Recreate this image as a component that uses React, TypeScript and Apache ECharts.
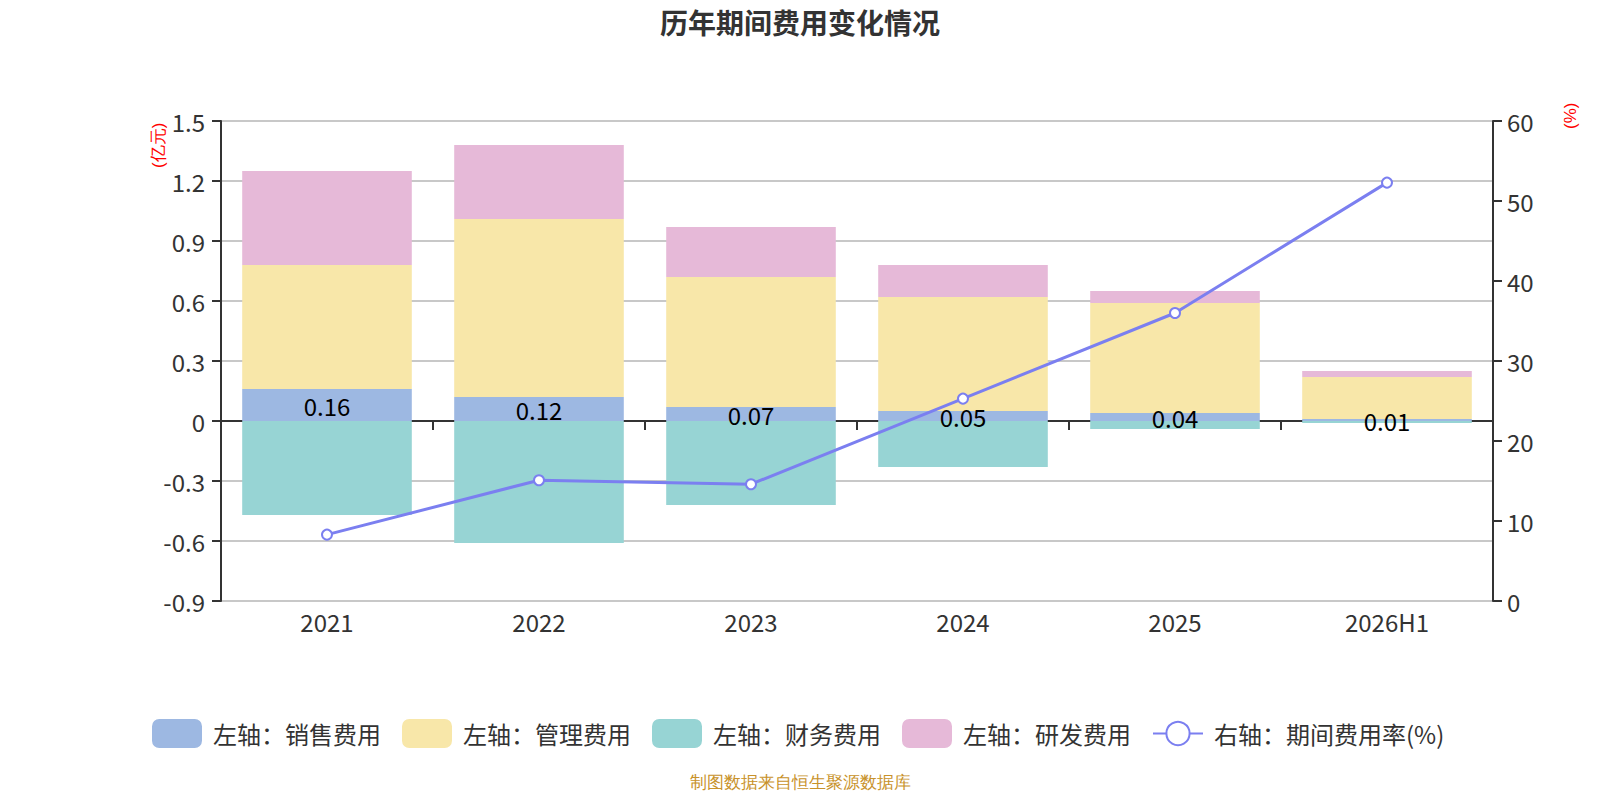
import { useRef, useEffect } from "react";
import * as echarts from "echarts";

const YEARS = ["2021", "2022", "2023", "2024", "2025", "2026H1"];
const SALES = [0.16, 0.12, 0.07, 0.05, 0.04, 0.01];
const ADMIN = [0.62, 0.89, 0.65, 0.57, 0.55, 0.21];
const FINANCE = [-0.47, -0.61, -0.42, -0.23, -0.04, -0.01];
const RND = [0.47, 0.37, 0.25, 0.16, 0.06, 0.03];
const RATE = [8.3, 15.1, 14.6, 25.3, 36.0, 52.3];

const TEXT = "#333";
const AXIS_LINE = "#333";

export default function App() {
  const ref = useRef<HTMLDivElement>(null);

  useEffect(() => {
    if (!ref.current) return;
    const chart = echarts.init(ref.current, null, { renderer: "svg" });
    const barBase = { type: "bar", stack: "cost", barWidth: "80%", yAxisIndex: 0 };

    chart.setOption({
      animation: false,
      textStyle: { fontFamily: "'Noto Sans CJK SC', 'Noto Sans', sans-serif" },
      title: {
        text: "历年期间费用变化情况",
        left: "center",
        top: 0,
        padding: [0, 5],
        textStyle: { fontSize: 28, fontWeight: "bold", color: TEXT },
      },
      grid: { left: 213, right: 99, top: 113, bottom: 191, outerBoundsMode: "none" },
      legend: {
        top: 706,
        left: 139,
        itemWidth: 50,
        itemHeight: 29,
        itemGap: 21,
        textStyle: { fontSize: 24, color: TEXT, padding: [0, 0, 0, 6] },
        data: [
          { name: "左轴：销售费用", icon: "roundRect" },
          { name: "左轴：管理费用", icon: "roundRect" },
          { name: "左轴：财务费用", icon: "roundRect" },
          { name: "左轴：研发费用", icon: "roundRect" },
          { name: "右轴：期间费用率(%)" },
        ],
      },
      graphic: [
        {
          type: "text",
          x: 142,
          y: 160,
          rotation: Math.PI / 2,
          style: { text: "(亿元)", fill: "#ff0000", fontSize: 17, align: "left", verticalAlign: "top" },
        },
        {
          type: "text",
          x: 1554,
          y: 121,
          rotation: Math.PI / 2,
          style: { text: "(%)", fill: "#ff0000", fontSize: 17, align: "left", verticalAlign: "top" },
        },
        {
          type: "text",
          x: 792,
          y: 774,
          style: {
            text: "制图数据来自恒生聚源数据库",
            fill: "#c8922a",
            fontSize: 17,
            align: "center",
            verticalAlign: "middle",
          },
        },
      ],
      xAxis: {
        type: "category",
        data: YEARS,
        axisLine: { onZero: true, lineStyle: { color: AXIS_LINE, width: 2 } },
        axisTick: { show: true, length: 9, lineStyle: { color: AXIS_LINE, width: 2 } },
        axisLabel: { fontSize: 24, color: TEXT, margin: 8 },
      },
      yAxis: [
        {
          type: "value",
          min: -0.9,
          max: 1.5,
          interval: 0.3,
          axisLine: { show: true, lineStyle: { color: AXIS_LINE, width: 2 } },
          axisTick: { show: true, length: 9, lineStyle: { color: AXIS_LINE, width: 2 } },
          axisLabel: {
            fontSize: 24,
            color: TEXT,
            margin: 16,
            formatter: (v: number) => String(Math.round(v * 10) / 10),
          },
          splitLine: { show: true, lineStyle: { color: "#c8c8c8", width: 2 } },
        },
        {
          type: "value",
          min: 0,
          max: 60,
          interval: 10,
          axisLine: { show: true, lineStyle: { color: AXIS_LINE, width: 2 } },
          axisTick: { show: true, length: 9, lineStyle: { color: AXIS_LINE, width: 2 } },
          axisLabel: { fontSize: 24, color: TEXT, margin: 14 },
          splitLine: { show: false },
        },
      ],
      series: [
        {
          ...barBase,
          name: "左轴：销售费用",
          data: SALES,
          itemStyle: { color: "#9db8e2" },
          label: { show: true, position: "inside", fontSize: 24, color: "#000" },
        },
        { ...barBase, name: "左轴：管理费用", data: ADMIN, itemStyle: { color: "#f8e7a9" } },
        { ...barBase, name: "左轴：财务费用", data: FINANCE, itemStyle: { color: "#97d4d4" } },
        { ...barBase, name: "左轴：研发费用", data: RND, itemStyle: { color: "#e6b9d8" } },
        {
          type: "line",
          name: "右轴：期间费用率(%)",
          yAxisIndex: 1,
          data: RATE,
          symbol: "emptyCircle",
          symbolSize: 10,
          lineStyle: { color: "#7b7ff0", width: 3 },
          itemStyle: { color: "#7b7ff0", borderWidth: 1.5 },
          z: 5,
        },
      ],
    });

    return () => chart.dispose();
  }, []);

  return <div ref={ref} style={{ width: 1584, height: 784 }} />;
}
